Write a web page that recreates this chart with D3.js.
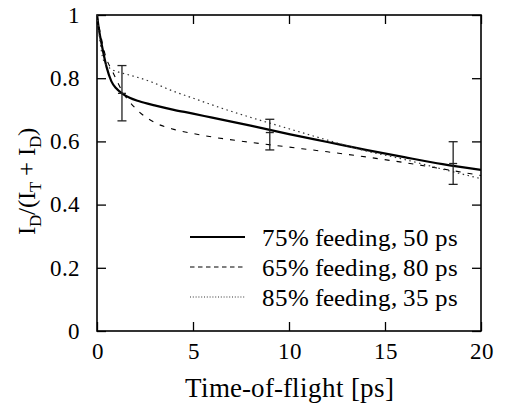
<!DOCTYPE html>
<html>
<head>
<meta charset="utf-8">
<script src="https://cdn.jsdelivr.net/npm/d3@7"></script>
<style>
  @font-face { font-family: 'ChartSerif'; src: local('Liberation Serif'), local('LiberationSerif'), local('Times New Roman'); }
  body { margin: 0; background: #fff; }
  svg text { font-family: 'ChartSerif', 'Liberation Serif', 'Times New Roman', serif !important; }
</style>
</head>
<body>
<svg id="chart" width="510" height="406" font-family="'Liberation Serif'"></svg>
<script>
// tick values
var x_ticks = [0, 5, 10, 15, 20];
var y_ticks = [0, 0.2, 0.4, 0.6, 0.8, 1];

// 75% feeding, 50 ps (solid)
var solid_x = [0, 0.1, 0.25, 0.5, 0.75, 1, 1.3, 1.7, 2.2, 3, 4, 5, 6, 8, 10, 12, 14, 16, 18, 20];
var solid_y = [1.0, 0.955, 0.905, 0.835, 0.79, 0.768, 0.752, 0.738, 0.727, 0.714, 0.70, 0.688, 0.675, 0.65, 0.623, 0.598, 0.573, 0.55, 0.528, 0.51];

// 65% feeding, 80 ps (dashed)
var dashed_x = [0, 0.15, 0.4, 0.85, 1.35, 2, 3, 4, 5, 6, 8, 10, 12, 14, 16, 18, 20];
var dashed_y = [1.0, 0.95, 0.88, 0.816, 0.755, 0.705, 0.66, 0.638, 0.625, 0.614, 0.597, 0.582, 0.567, 0.551, 0.533, 0.513, 0.492];

// 85% feeding, 35 ps (dotted)
var dotted_x = [0, 0.15, 0.33, 0.68, 1, 1.7, 2.8, 3.8, 5, 6.5, 8, 10, 12, 14, 16, 18, 20];
var dotted_y = [1.0, 0.92, 0.858, 0.831, 0.822, 0.81, 0.789, 0.763, 0.737, 0.705, 0.676, 0.64, 0.604, 0.57, 0.543, 0.512, 0.482];

// measured points with error bars
var err_x = [1.3, 9.0, 18.55];
var err_y = [0.752, 0.628, 0.53];
var err_lo = [0.665, 0.573, 0.464];
var err_hi = [0.84, 0.67, 0.599];

var legend_labels = ["75% feeding, 50 ps", "65% feeding, 80 ps", "85% feeding, 35 ps"];

var FONT = "'Liberation Serif'";

var margin = {left: 97, right: 29, top: 15, bottom: 75};
var width = 510 - margin.left - margin.right,
    height = 406 - margin.top - margin.bottom;

var svg = d3.select('#chart');
var g = svg.append('g').attr('transform', 'translate(' + margin.left + ',' + margin.top + ')');

var sx = d3.scaleLinear().domain([0, 20]).range([0, width]);
var sy = d3.scaleLinear().domain([0, 1]).range([height, 0]);
var fmt = function(d){ return d3.format('~g')(d); };

// axes (ticks point inward, mirrored on top/right)
var axes = [
  g.append('g').attr('transform', 'translate(0,' + height + ')')
    .call(d3.axisBottom(sx).tickValues(x_ticks).tickSizeInner(-9).tickSizeOuter(0).tickPadding(12).tickFormat(fmt)),
  g.append('g')
    .call(d3.axisLeft(sy).tickValues(y_ticks).tickSizeInner(-9).tickSizeOuter(0).tickPadding(17).tickFormat(fmt)),
  g.append('g')
    .call(d3.axisTop(sx).tickValues(x_ticks).tickSizeInner(-9).tickSizeOuter(0).tickFormat('')),
  g.append('g').attr('transform', 'translate(' + width + ',0)')
    .call(d3.axisRight(sy).tickValues(y_ticks).tickSizeInner(-9).tickSizeOuter(0).tickFormat(''))
];
axes.forEach(function(a){
  a.attr('font-family', FONT).attr('font-size', 23);
  a.select('.domain').remove();
  a.selectAll('line').attr('stroke', '#000').attr('stroke-width', 1.3);
  a.selectAll('text').attr('fill', '#000').attr('font-family', FONT);
});

g.append('rect')
  .attr('width', width).attr('height', height)
  .attr('fill', 'none').attr('stroke', '#000').attr('stroke-width', 1.6);

g.append('clipPath').attr('id', 'clip')
  .append('rect').attr('width', width).attr('height', height);

var line = d3.line()
  .x(function(d){ return sx(d[0]); })
  .y(function(d){ return sy(d[1]); })
  .curve(d3.curveMonotoneX);

var series = [
  {xs: solid_x, ys: solid_y, width: 2.2, dash: null, color: '#000', legdash: null},
  {xs: dashed_x, ys: dashed_y, width: 1.1, dash: '5,7', color: '#000', legdash: '4.5,3.5'},
  {xs: dotted_x, ys: dotted_y, width: 1.2, dash: '1.5,3.5', color: '#333', legdash: '1,1.8'}
];

var curves = g.append('g').attr('clip-path', 'url(#clip)');
series.forEach(function(s){
  curves.append('path')
    .datum(d3.zip(s.xs, s.ys))
    .attr('d', line)
    .attr('fill', 'none')
    .attr('stroke', s.color)
    .attr('stroke-width', s.width)
    .attr('stroke-dasharray', s.dash);
});

// error bars
var bars = g.append('g').attr('stroke', '#222').attr('stroke-width', 1.3);
err_x.forEach(function(xv, i){
  var px = sx(xv);
  bars.append('line').attr('x1', px).attr('x2', px).attr('y1', sy(err_lo[i])).attr('y2', sy(err_hi[i]));
  bars.append('line').attr('x1', px - 4.5).attr('x2', px + 4.5).attr('y1', sy(err_lo[i])).attr('y2', sy(err_lo[i]));
  bars.append('line').attr('x1', px - 4.5).attr('x2', px + 4.5).attr('y1', sy(err_hi[i])).attr('y2', sy(err_hi[i]));
  bars.append('line').attr('x1', px - 4).attr('x2', px + 4).attr('y1', sy(err_y[i])).attr('y2', sy(err_y[i]));
});

// legend
var leg = svg.append('g').attr('transform', 'translate(190,237)');
series.forEach(function(s, i){
  var row = leg.append('g').attr('transform', 'translate(0,' + (i * 30) + ')');
  row.append('line').attr('x1', 0).attr('x2', 55).attr('y1', 0).attr('y2', 0)
    .attr('stroke', s.color).attr('stroke-width', s.width).attr('stroke-dasharray', s.legdash);
  row.append('text').attr('x', 72).attr('y', 8.5)
    .attr('font-family', FONT).attr('font-size', 25).attr('fill', '#000')
    .text(legend_labels[i]);
});

// axis titles
svg.append('text')
  .attr('x', margin.left + width / 2).attr('y', 397)
  .attr('text-anchor', 'middle').attr('font-family', FONT).attr('font-size', 27).attr('fill', '#000')
  .text('Time-of-flight [ps]');

var yt = svg.append('text')
  .attr('transform', 'translate(35,' + (margin.top + height / 2 + 8) + ') rotate(-90)')
  .attr('text-anchor', 'middle').attr('font-family', FONT).attr('font-size', 25).attr('fill', '#000');
yt.append('tspan').text('I');
yt.append('tspan').attr('font-size', 17).attr('dy', 6).text('D');
yt.append('tspan').attr('dy', -6).text('/(I');
yt.append('tspan').attr('font-size', 17).attr('dy', 6).text('T');
yt.append('tspan').attr('dy', -6).text(' + I');
yt.append('tspan').attr('font-size', 17).attr('dy', 6).text('D');
yt.append('tspan').attr('dy', -6).text(')');
</script>
</body>
</html>
